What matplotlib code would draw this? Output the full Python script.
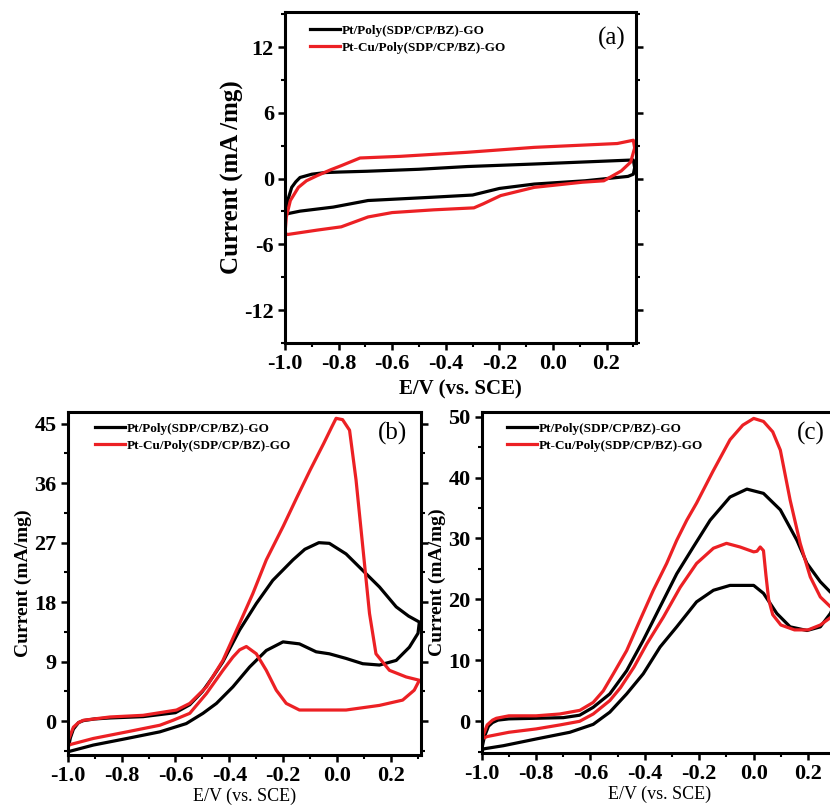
import matplotlib
matplotlib.use("Agg")
import matplotlib.pyplot as plt
from matplotlib.ticker import MultipleLocator, FormatStrFormatter

# ---------------- data ----------------
legend_labels = ["Pt/Poly(SDP/CP/BZ)-GO", "Pt-Cu/Poly(SDP/CP/BZ)-GO"]
xlabel_text = "E/V (vs. SCE)"

# Panel (a)
a_pt_v = [-1.0, -0.99, -0.975, -0.96, -0.944, -0.9, -0.85, -0.794, -0.694, -0.5, -0.32, -0.07, 0.1, 0.24, 0.3,
          0.305, 0.3, 0.28, 0.24, 0.12, -0.07, -0.2, -0.3, -0.45, -0.69, -0.82, -0.944, -0.99, -1.0]
a_pt_i = [-3.2, -2.0, -0.8, -0.3, 0.1, 0.4, 0.55, 0.6, 0.67, 0.85, 1.1, 1.33, 1.5, 1.64, 1.7,
          1.0, 0.4, 0.2, 0.1, -0.2, -0.5, -0.9, -1.5, -1.7, -2.0, -2.6, -2.97, -3.2, -3.2]
a_cu_v = [-1.0, -0.995, -0.98, -0.95, -0.92, -0.88, -0.83, -0.79, -0.72, -0.57, -0.32, -0.07, 0.24, 0.3,
          0.305, 0.29, 0.255, 0.19, 0.11, -0.07, -0.195, -0.26, -0.295, -0.445, -0.6, -0.69, -0.79, -0.88, -0.99, -1.0]
a_cu_i = [-5.0, -3.5, -2.0, -0.8, -0.2, 0.27, 0.8, 1.18, 1.88, 2.03, 2.4, 2.85, 3.2, 3.5,
          2.8, 1.5, 0.7, -0.2, -0.33, -0.8, -1.55, -2.3, -2.67, -2.85, -3.1, -3.5, -4.4, -4.7, -5.1, -5.0]

# Panel (b)
b_pt_v = [-1.0, -0.99, -0.979, -0.96, -0.942, -0.9, -0.843, -0.72, -0.6, -0.547, -0.5, -0.46, -0.424, -0.362,
          -0.3, -0.239, -0.164, -0.12, -0.068, -0.029, 0.033, 0.095, 0.157, 0.219, 0.265, 0.305,
          0.3, 0.268, 0.219, 0.157, 0.095, 0.033, -0.029, -0.078, -0.14, -0.201, -0.263, -0.325, -0.387,
          -0.448, -0.498, -0.56, -0.658, -0.78, -0.905, -0.998]
b_pt_i = [-4.4, -2.5, -1.2, -0.2, 0.1, 0.35, 0.5, 0.7, 1.3, 2.5, 4.5, 6.8, 9.0, 13.8,
          17.8, 21.3, 24.4, 26.0, 27.0, 26.9, 25.3, 22.8, 20.3, 17.3, 15.9, 15.0,
          13.3, 11.2, 9.2, 8.5, 8.7, 9.5, 10.2, 10.5, 11.7, 12.0, 10.7, 8.2, 5.2,
          2.7, 1.2, -0.35, -1.6, -2.6, -3.6, -4.6]
b_cu_v = [-1.0, -0.998, -0.979, -0.96, -0.942, -0.843, -0.72, -0.596, -0.547, -0.485, -0.424, -0.362, -0.313,
          -0.263, -0.2, -0.15, -0.1, -0.05, -0.02, -0.004, 0.02, 0.046, 0.07, 0.095, 0.12, 0.144, 0.194, 0.256,
          0.305, 0.286, 0.243, 0.157, 0.033, -0.053, -0.14, -0.189, -0.226, -0.263, -0.3, -0.337, -0.362,
          -0.387, -0.424, -0.485, -0.547, -0.609, -0.658, -0.78, -0.905, -0.998, -1.0]
b_cu_i = [-3.4, -2.9, -0.9, -0.2, 0.15, 0.65, 0.9, 1.7, 2.7, 5.2, 9.2, 14.8, 19.3,
          24.4, 29.5, 33.8, 38.0, 42.0, 44.5, 45.8, 45.6, 44.0, 36.5, 26.4, 16.3, 10.2, 7.7, 6.7,
          6.2, 4.7, 3.2, 2.4, 1.7, 1.7, 1.7, 2.7, 4.7, 7.7, 10.2, 11.3, 10.8,
          9.7, 7.7, 4.2, 1.2, 0.15, -0.6, -1.6, -2.6, -3.6, -3.6]

# Panel (c)
c_pt_v = [-1.0, -0.99, -0.975, -0.96, -0.94, -0.9, -0.8, -0.7, -0.64, -0.59, -0.529, -0.467, -0.406, -0.344,
          -0.283, -0.222, -0.16, -0.087, -0.025, 0.036, 0.098, 0.159, 0.196, 0.245, 0.282, 0.31,
          0.282, 0.245, 0.196, 0.134, 0.085, 0.036, 0.0, -0.087, -0.148, -0.21, -0.283, -0.344, -0.406,
          -0.467, -0.529, -0.59, -0.676, -0.8, -0.92, -0.99, -1.0]
c_pt_i = [-4.6, -2.5, -0.8, -0.2, 0.2, 0.4, 0.5, 0.6, 1.0, 2.3, 4.5, 8.3, 13.3, 18.8,
          24.2, 28.6, 33.0, 36.8, 38.1, 37.4, 34.7, 29.7, 25.9, 22.9, 21.2, 20.5,
          17.7, 15.5, 14.9, 15.5, 17.7, 21.0, 22.3, 22.3, 21.5, 19.6, 15.5, 12.2, 7.8,
          4.5, 1.5, -0.5, -1.8, -2.9, -4.0, -4.5, -4.7]
c_cu_v = [-1.0, -0.99, -0.98, -0.96, -0.946, -0.9, -0.8, -0.713, -0.639, -0.59, -0.553, -0.516, -0.467, -0.418,
          -0.369, -0.32, -0.283, -0.246, -0.21, -0.15, -0.087, -0.04, 0.0, 0.036, 0.07, 0.098, 0.134, 0.171,
          0.208, 0.245, 0.282, 0.31,
          0.282, 0.245, 0.2, 0.15, 0.1, 0.07, 0.055, 0.045, 0.036, 0.024, 0.012, 0.0, -0.05, -0.1, -0.148,
          -0.21, -0.27, -0.332, -0.393, -0.44, -0.49, -0.529, -0.59, -0.64, -0.713, -0.8, -0.9, -0.98, -1.0]
c_cu_i = [-2.8, -1.8, -0.6, 0.2, 0.5, 0.9, 0.9, 1.2, 1.8, 3.1, 5.0, 7.8, 11.6, 16.6,
          21.5, 25.9, 29.7, 33.0, 35.8, 41.0, 46.2, 48.6, 49.7, 49.2, 47.5, 44.5, 36.3, 29.2,
          23.7, 20.4, 18.8, 18.3,
          17.0, 15.8, 15.0, 15.0, 15.8, 17.5, 20.0, 24.0, 28.0, 28.6, 27.9, 27.8, 28.6, 29.2, 28.4,
          25.9, 22.0, 17.1, 12.7, 8.9, 5.5, 3.4, 1.2, 0.0, -0.6, -1.25, -1.8, -2.5, -2.9]

# ---------------- style ----------------
RED = "#ec2024"
BLACK = "#000000"
SERIF = ["Liberation Serif", "DejaVu Serif"]
plt.rcParams["font.family"] = SERIF

W, H = 830, 806
fig = plt.figure(figsize=(W / 100, H / 100), dpi=100)


def px_axes(left, top, right, bottom):
    return fig.add_axes([left / W, 1 - bottom / H, (right - left) / W, (bottom - top) / H])


def style_axes(ax, xlim, ylim, ymaj, ymin):
    ax.set_xlim(*xlim)
    ax.set_ylim(*ylim)
    ax.xaxis.set_major_locator(MultipleLocator(0.2))
    ax.xaxis.set_minor_locator(MultipleLocator(0.1))
    ax.yaxis.set_major_locator(MultipleLocator(ymaj))
    ax.yaxis.set_minor_locator(MultipleLocator(ymin))
    ax.xaxis.set_major_formatter(FormatStrFormatter("%.1f"))
    ax.yaxis.set_major_formatter(FormatStrFormatter("%d"))
    for s in ax.spines.values():
        s.set_linewidth(2.2)
    ax.tick_params(which="major", direction="out", length=5, width=1.8,
                   right=True, top=False, labelsize=16, pad=3)
    ax.tick_params(which="minor", direction="out", length=3, width=1.5,
                   right=True, top=False)
    for lab in ax.get_xticklabels() + ax.get_yticklabels():
        lab.set_fontweight("bold")


def add_legend(ax, x, y):
    leg = ax.legend(loc="upper left", bbox_to_anchor=(x, y), frameon=False,
                    prop={"family": SERIF, "weight": "bold", "size": 9.5},
                    handlelength=2.3, handletextpad=0.1, labelspacing=0.35,
                    borderaxespad=0, borderpad=0)
    return leg


LW = 2.3

# ---------------- panel (a) ----------------
ax = px_axes(285, 12, 636, 343)
ax.plot(a_pt_v, a_pt_i, color=BLACK, lw=LW, label=legend_labels[0])
ax.plot(a_cu_v, a_cu_i, color=RED, lw=LW, label=legend_labels[1])
style_axes(ax, (-1.0, 0.31), (-15, 15.2), 6, 3)
ax.set_xlabel(xlabel_text, fontsize=15, fontweight="bold", labelpad=4)
ax.set_ylabel("Current (mA /mg)", fontsize=18, fontweight="bold", labelpad=0)
add_legend(ax, 0.07, 0.962)
ax.text(0.93, 0.955, "(a)", transform=ax.transAxes, fontsize=18, ha="center", va="top")

# ---------------- panel (b) ----------------
ax = px_axes(67.7, 411.7, 420.7, 755)
ax.plot(b_pt_v, b_pt_i, color=BLACK, lw=LW, label=legend_labels[0])
ax.plot(b_cu_v, b_cu_i, color=RED, lw=LW, label=legend_labels[1])
style_axes(ax, (-1.0, 0.31), (-5.1, 46.8), 9, 4.5)
ax.set_xlabel(xlabel_text, fontsize=13, labelpad=1)
ax.set_ylabel("Current (mA/mg)", fontsize=14, fontweight="bold", labelpad=2)
add_legend(ax, 0.077, 0.968)
ax.text(0.92, 0.97, "(b)", transform=ax.transAxes, fontsize=18, ha="center", va="top")

# ---------------- panel (c) ----------------
ax = px_axes(481.7, 411.7, 838, 753)
ax.plot(c_pt_v, c_pt_i, color=BLACK, lw=LW, label=legend_labels[0])
ax.plot(c_cu_v, c_cu_i, color=RED, lw=LW, label=legend_labels[1])
style_axes(ax, (-1.0, 0.31), (-5.2, 50.8), 10, 5)
ax.set_xlabel(xlabel_text, fontsize=13, labelpad=1)
ax.set_ylabel("Current (mA/mg)", fontsize=14, fontweight="bold", labelpad=2)
add_legend(ax, 0.07, 0.968)
ax.text(0.925, 0.97, "(c)", transform=ax.transAxes, fontsize=18, ha="center", va="top")

fig.savefig("out.png", dpi=100)
